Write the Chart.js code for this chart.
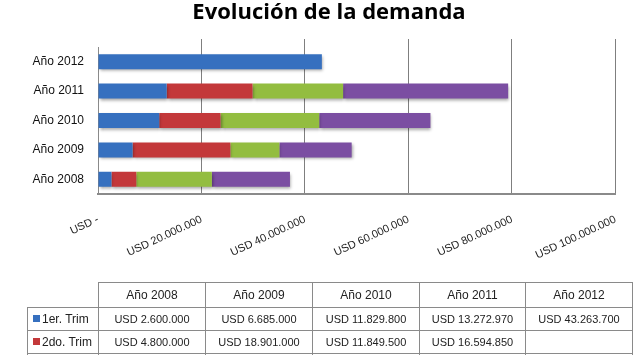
<!DOCTYPE html>
<html><head><meta charset="utf-8">
<script src="https://cdn.jsdelivr.net/npm/chart.js@4"></script>
<style>
html,body{margin:0;padding:0;background:#fff;overflow:hidden;}
#wrap{position:relative;width:640px;height:355px;}
#c{position:absolute;left:0;top:0;}
#tbl{position:absolute;left:27px;top:282px;border-collapse:collapse;table-layout:fixed;width:605px;font-family:"Liberation Sans",Arial,sans-serif;color:#222;}
#tbl td{border:1px solid #8a8a8a;text-align:center;font-size:11px;padding:0;overflow:hidden;white-space:nowrap;}
#tbl tr{height:23px;}
#tbl tr.h{height:25px;}
#tbl tr.h td{font-size:12px;}
#tbl td.corner{border:none;border-right:1px solid #8a8a8a;border-bottom:1px solid #8a8a8a;}
#tbl td.lg{text-align:left;font-size:12px;padding-left:5px;}
#tbl td.lg span{display:inline-block;width:7px;height:7px;margin-right:2px;vertical-align:1px;}
</style></head>
<body><div id="wrap"><canvas id="c" width="640" height="355"></canvas><table id="tbl"><colgroup><col style="width:71px"><col style="width:107px"><col style="width:107px"><col style="width:107px"><col style="width:106px"><col style="width:107px"></colgroup><tbody id="tb"></tbody></table></div>
<script>
const categories = ['Año 2008','Año 2009','Año 2010','Año 2011','Año 2012'];
const seriesNames = ['1er. Trim','2do. Trim','3er. Trim','4to. Trim'];
const q1 = [2600000, 6685000, 11829800, 13272970, 43263700];
const q2 = [4800000, 18901000, 11849500, 16594850, null];
const q3 = [14600000, 9470000, 19070000, 17500000, null];
const q4 = [15100000, 13970000, 21500000, 31900000, null];
const tickValues = [0, 20000000, 40000000, 60000000, 80000000, 100000000];
const colors = ['#3670BF','#C3383A','#93BD40','#7B4EA2'];
const seriesValues = [q1,q2,q3,q4];

function fmt(v){
  if (v === null || v === undefined) return '';
  if (v === 0) return 'USD -';
  return 'USD ' + String(Math.round(v)).replace(/\B(?=(\d{3})+(?!\d))/g,'.');
}

// Data table
const tb = document.getElementById('tb');
let html = '<tr class="h"><td class="corner"></td>' + categories.map(c=>'<td>'+c+'</td>').join('') + '</tr>';
seriesValues.forEach((arr,i)=>{
  html += '<tr><td class="lg"><span style="background:'+colors[i]+'"></span>'+seriesNames[i]+'</td>' +
          arr.map(v=>'<td>'+fmt(v)+'</td>').join('') + '</tr>';
});
tb.innerHTML = html;

const shadowPlugin = {
  id:'shadow',
  beforeDatasetsDraw(chart){ const ctx=chart.ctx; ctx.save(); ctx.shadowColor='rgba(0,0,0,0.35)'; ctx.shadowBlur=3; ctx.shadowOffsetX=1; ctx.shadowOffsetY=2; },
  afterDatasetsDraw(chart){ chart.ctx.restore(); }
};
const widenLabels = {
  id:'widenLabels',
  afterLayout(chart){ const y = chart.scales.y; y.left = 10; y.width = y.right - y.left; }
};

new Chart(document.getElementById('c'), {
  type:'bar',
  data:{
    labels: categories,
    datasets: seriesValues.map((arr,i)=>({
      label: seriesNames[i], data: arr, backgroundColor: colors[i], borderWidth:0,
      barPercentage:0.51, categoryPercentage:1.0, xAxisID:'x'
    }))
  },
  plugins:[shadowPlugin, widenLabels],
  options:{
    responsive:false, animation:false, indexAxis:'y',
    layout:{padding:{left:41,right:23,top:0,bottom:0}},
    plugins:{
      legend:{display:false}, tooltip:{enabled:false},
      title:{display:true, text:'Evolución de la demanda', color:'#000',
        font:{family:'"Open Sans", sans-serif', size:22, weight:'bold', lineHeight:1.2}, padding:{top:0,bottom:12.6}}
    },
    scales:{
      x:{
        type:'linear', position:'bottom', stacked:true, min:0, max:100000000,
        afterBuildTicks(s){ s.ticks = tickValues.map(v=>({value:v})); },
        afterFit(s){ s.height = 161; },
        ticks:{ callback:(v)=>fmt(v), minRotation:25, maxRotation:25, padding:19, autoSkip:false,
          color:'#222', font:{family:'"Liberation Sans", Arial, sans-serif', size:11} },
        grid:{ color:'#7f7f7f', lineWidth:1, drawTicks:false },
        border:{ display:true, color:'#8a8a8a', width:2 }
      },
      x2:{
        type:'linear', position:'top', min:0, max:100000000,
        afterBuildTicks(s){ s.ticks = tickValues.map(v=>({value:v})); },
        ticks:{ display:false },
        grid:{ drawOnChartArea:false, drawTicks:true, tickLength:8, lineWidth:1,
          tickColor:(ctx)=> ctx.index === 0 ? 'rgba(0,0,0,0)' : '#7f7f7f' },
        border:{ display:false }
      },
      y:{
        type:'category', stacked:true, reverse:true,
        afterFit(s){ s.width = 57; },
        ticks:{ padding:14, color:'#111', font:{family:'"Liberation Sans", Arial, sans-serif', size:12} },
        grid:{ display:false, drawTicks:false },
        border:{ display:true, color:'#8a8a8a', width:1 }
      }
    }
  }
});
</script></body></html>
